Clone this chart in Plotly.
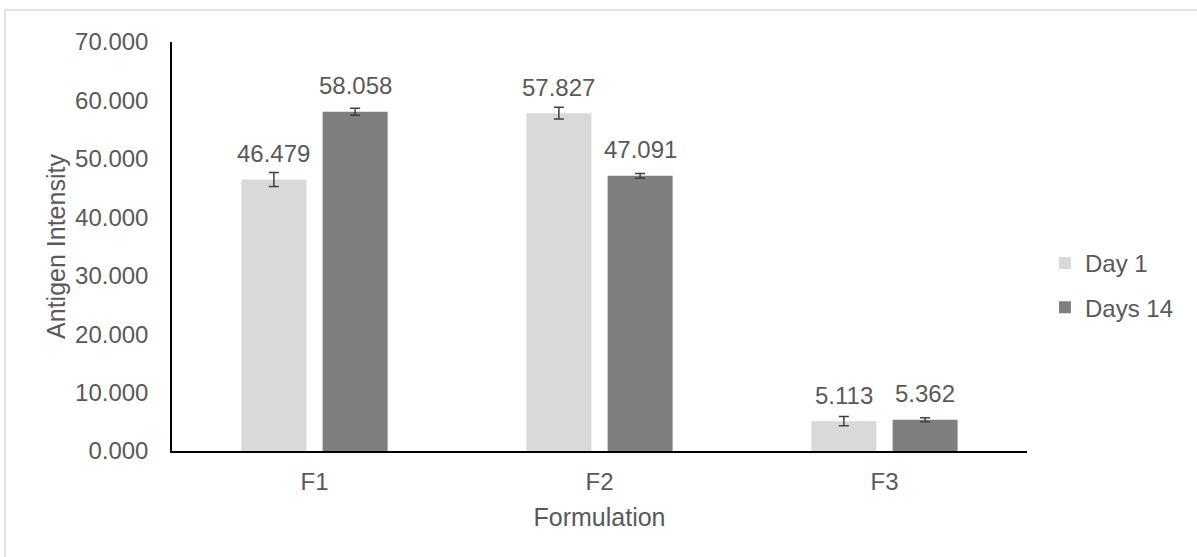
import plotly.graph_objects as go

categories = ["F1", "F2", "F3"]
day1 = [46.479, 57.827, 5.113]
day14 = [58.058, 47.091, 5.362]
day1_err = [1.2, 1.0, 0.8]
day14_err = [0.6, 0.4, 0.35]
series_names = ["Day 1", "Days 14"]
colors = ["#D9D9D9", "#7F7F7F"]

FONT = "Arial, Liberation Sans, sans-serif"
TXT = "#595959"

W, H = 1197, 557
ml, mr, mt, mb = 172, 170, 42, 106
pw = W - ml - mr
ph = H - mt - mb

fig = go.Figure()
for i, (name, vals, errs) in enumerate(zip(series_names, [day1, day14], [day1_err, day14_err])):
    fig.add_trace(go.Bar(
        x=categories, y=vals, name=name,
        marker=dict(color=colors[i], line=dict(width=0)),
        error_y=dict(type="data", array=errs, visible=True, color="#404040", thickness=1.5, width=5),
        legendgroup=name,
    ))

# data labels above bars
slot_px = pw / len(categories) * (1 - 0.43) / 2
for i, vals in enumerate([day1, day14]):
    shift = (i - 0.5) * slot_px
    for c, v in zip(categories, vals):
        fig.add_annotation(x=c, y=v, text=f"{v:.3f}", showarrow=False,
                           xshift=shift, yshift=26,
                           font=dict(family=FONT, size=24, color=TXT))

fig.add_shape(type="rect", xref="paper", yref="paper",
              x0=(5 - ml) / pw, x1=1.4, y0=-0.5, y1=(H - mb - 10) / ph,
              line=dict(color="#D9D9D9", width=1.5), fillcolor="rgba(0,0,0,0)", layer="below")

fig.update_layout(
    width=W, height=H,
    margin=dict(l=ml, r=mr, t=mt, b=mb),
    paper_bgcolor="white", plot_bgcolor="white",
    barmode="group", bargap=0.43, bargroupgap=0.2,
    font=dict(family=FONT, size=24, color=TXT),
    showlegend=True,
    legend=dict(x=1.021, y=0.405, xanchor="left", yanchor="middle",
                font=dict(family=FONT, size=24, color=TXT),
                tracegroupgap=10, itemwidth=30),
    xaxis=dict(showline=True, linecolor="black", linewidth=2, ticks="",
               showgrid=False, tickfont=dict(size=24, color=TXT), ticklabelstandoff=8,
               title=dict(text="Formulation", font=dict(size=25, color=TXT), standoff=15)),
    yaxis=dict(range=[0, 70], dtick=10, tickformat=".3f", showline=True, linecolor="black",
               linewidth=1.5, ticks="", showgrid=False, zeroline=False,
               tickfont=dict(size=24, color=TXT), ticklabelstandoff=17,
               title=dict(text="Antigen Intensity", font=dict(size=25, color=TXT), standoff=2)),
)

fig.write_html("out.html", config={"displayModeBar": False},
               post_script="document.body.style.margin='0';")
